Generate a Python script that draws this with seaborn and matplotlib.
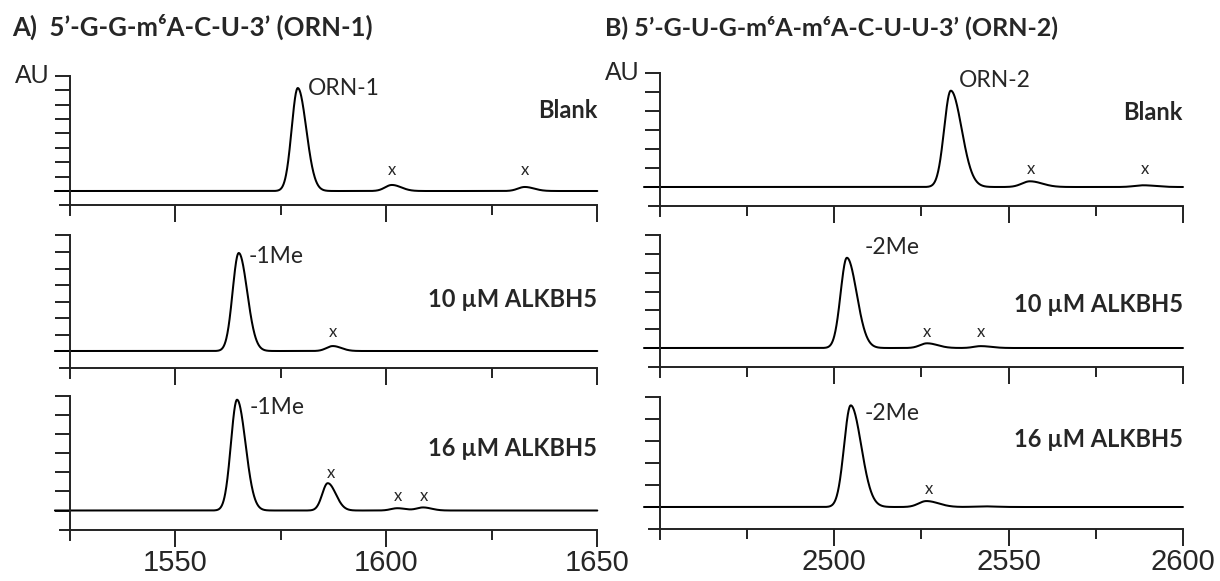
import numpy as np
import pandas as pd
import matplotlib
matplotlib.use("Agg")
import matplotlib.pyplot as plt
import seaborn as sns

sns.set_style("ticks")
plt.rcParams['font.family'] = ['Lato', 'DejaVu Sans']

W, H = 1220, 581

# peak tables: centre (m/z), height (in y-tick units), left/right width
orn1_blank_pos = [1579.0, 1601.3, 1632.8]
orn1_blank_hgt = [7.15, 0.42, 0.28]
orn1_blank_wl = [1.45, 1.6, 1.6]
orn1_blank_wr = [2.0, 2.2, 2.2]

orn1_10_pos = [1565.0, 1587.3]
orn1_10_hgt = [5.94, 0.30]
orn1_10_wl = [1.45, 1.5]
orn1_10_wr = [2.0, 2.0]

orn1_16_pos = [1564.6, 1586.1, 1602.6, 1608.7]
orn1_16_hgt = [5.80, 1.43, 0.12, 0.16]
orn1_16_wl = [1.45, 1.3, 1.5, 1.5]
orn1_16_wr = [2.0, 1.9, 2.0, 2.0]

orn2_blank_pos = [2533.4, 2556.1, 2588.6]
orn2_blank_hgt = [5.07, 0.30, 0.09]
orn2_blank_wl = [1.9, 2.3, 2.5]
orn2_blank_wr = [3.1, 3.5, 3.5]

orn2_10_pos = [2503.6, 2526.6, 2542.0]
orn2_10_hgt = [4.80, 0.25, 0.10]
orn2_10_wl = [1.8, 2.0, 2.0]
orn2_10_wr = [2.8, 3.0, 3.0]

orn2_16_pos = [2504.7, 2526.4, 2542.6]
orn2_16_hgt = [4.62, 0.27, 0.03]
orn2_16_wl = [1.9, 2.2, 2.5]
orn2_16_wr = [3.0, 3.5, 3.5]

# annotations: (text, x, y)
orn1_blank_txt = [("ORN-1", 1581.4, 7.15)]
orn1_blank_x = [(1601.3, 1.45), (1632.8, 1.45)]
orn1_10_txt = [("-1Me", 1567.4, 5.75)]
orn1_10_x = [(1587.3, 1.15)]
orn1_16_txt = [("-1Me", 1567.5, 5.37)]
orn1_16_x = [(1586.8, 1.98), (1602.7, 0.76), (1608.8, 0.76)]
orn2_blank_txt = [("ORN-2", 2535.7, 5.63)]
orn2_blank_x = [(2556.5, 0.95), (2589.0, 0.95)]
orn2_10_txt = [("-2Me", 2508.8, 5.37)]
orn2_10_x = [(2526.6, 0.85), (2542.0, 0.85)]
orn2_16_txt = [("-2Me", 2508.6, 4.27)]
orn2_16_x = [(2527.0, 0.80)]

conditions = ["Blank", "10 µM ALKBH5", "16 µM ALKBH5"]
cond_y_left = [5.6, 3.1, 3.27]
cond_y_right = [3.9, 2.3, 3.05]

titles = ["A)  5\u2019-G-G-m\u2076A-C-U-3\u2019 (ORN-1)",
          "B) 5\u2019-G-U-G-m\u2076A-m\u2076A-C-U-U-3\u2019 (ORN-2)"]

left_ticks = [1550, 1600, 1650]
left_minor = [1575, 1625]
right_ticks = [2500, 2550, 2600]
right_minor = [2475, 2525, 2575]

columns = [
    dict(x0=1525, x1=1650, px0=70.0, px1=597.3, lo=1521.4, ext=1522.6,
         major=left_ticks, minor=left_minor, cond_y=cond_y_left,
         rows=[(orn1_blank_pos, orn1_blank_hgt, orn1_blank_wl, orn1_blank_wr, orn1_blank_txt, orn1_blank_x),
               (orn1_10_pos, orn1_10_hgt, orn1_10_wl, orn1_10_wr, orn1_10_txt, orn1_10_x),
               (orn1_16_pos, orn1_16_hgt, orn1_16_wl, orn1_16_wr, orn1_16_txt, orn1_16_x)],
         geom=[(191.0, 14.4, 8), (351.0, 16.5, 7), (510.5, 19.1, 6)]),
    dict(x0=2450, x1=2600, px0=660.0, px1=1183.0, lo=2445.4, ext=2446.8,
         major=right_ticks, minor=right_minor, cond_y=cond_y_right,
         rows=[(orn2_blank_pos, orn2_blank_hgt, orn2_blank_wl, orn2_blank_wr, orn2_blank_txt, orn2_blank_x),
               (orn2_10_pos, orn2_10_hgt, orn2_10_wl, orn2_10_wr, orn2_10_txt, orn2_10_x),
               (orn2_16_pos, orn2_16_hgt, orn2_16_wl, orn2_16_wr, orn2_16_txt, orn2_16_x)],
         geom=[(187.0, 19.0, 6), (348.0, 18.8, 6), (507.0, 22.0, 5)]),
]


def build_trace(x, pos, hgt, wl, wr):
    # sum of slightly tailing peaks
    y = np.zeros_like(x)
    for p, h, a, b in zip(pos, hgt, wl, wr):
        s = np.where(x < p, a, b)
        y += h * np.exp(-0.5 * ((x - p) / s) ** 2)
    return y


fig = plt.figure(figsize=(W / 100, H / 100), dpi=100)

for ci, col in enumerate(columns):
    ppu = (col['px1'] - col['px0']) / (col['x1'] - col['x0'])
    xl = (col['lo'] - 0.3, col['x1'] + 1.0)
    left_px = col['px0'] + (xl[0] - col['x0']) * ppu
    right_px = col['px0'] + (xl[1] - col['x0']) * ppu
    for ri, (row, (base, step, ntop)) in enumerate(zip(col['rows'], col['geom'])):
        pos, hgt, wl, wr, txt, xs = row
        ybot = -1 - 10.0 / step
        top_px = base - ntop * step
        bot_px = base - ybot * step
        ax = fig.add_axes([left_px / W, 1 - bot_px / H,
                           (right_px - left_px) / W, (bot_px - top_px) / H])
        mz = np.linspace(col['lo'], col['x1'], 2000)
        df = pd.DataFrame({'mz': mz, 'au': build_trace(mz, pos, hgt, wl, wr)})
        sns.lineplot(data=df, x='mz', y='au', ax=ax, color='black', linewidth=1.45)
        ax.set_xlim(*xl)
        ax.set_ylim(ybot, ntop)
        ax.set_xlabel('')
        ax.set_ylabel('')
        for s in ('top', 'right'):
            ax.spines[s].set_visible(False)
        ax.spines['left'].set_position(('data', col['x0']))
        ax.spines['bottom'].set_position(('data', -1))
        ax.spines['bottom'].set_bounds(col['ext'], col['x1'])
        for s in ('left', 'bottom'):
            ax.spines[s].set_linewidth(1.4)
            ax.spines[s].set_color('#222222')
        ax.set_yticks(range(ntop + 1))
        ax.tick_params(axis='y', direction='out', length=10.8, width=1.4,
                       color='#222222', labelleft=False)
        if ri == 2:
            ax.set_xticks(col['major'], labels=[str(v) for v in col['major']],
                          fontfamily='Liberation Sans', fontsize=21)
        else:
            ax.set_xticks(col['major'])
            ax.tick_params(axis='x', labelbottom=False)
        ax.set_xticks(col['minor'], minor=True)
        ax.tick_params(axis='x', which='major', direction='out', length=12,
                       width=1.4, color='#222222', pad=2)
        ax.tick_params(axis='x', which='minor', direction='out', length=7,
                       width=1.4, color='#222222')
        ax.patch.set_alpha(0)

        for t, tx, ty in txt:
            ax.text(tx, ty, t, ha='left', va='center', fontsize=16.5)
        for tx, ty in xs:
            ax.text(tx, ty, 'x', ha='center', va='center', fontsize=12)
        ax.text(col['x1'], col['cond_y'][ri], conditions[ri], ha='right',
                va='center', fontsize=17, fontweight='bold')
        if ri == 0:
            ax.annotate('AU', xy=(col['x0'], ntop), xytext=(-14.4, 0),
                        textcoords='offset points', ha='right', va='center',
                        fontsize=18, fontfamily='Liberation Sans')

fig.text(12 / W, 1 - 27 / H, titles[0], ha='left', va='center',
         fontsize=18.5, fontweight='bold')
fig.text(605 / W, 1 - 27 / H, titles[1], ha='left', va='center',
         fontsize=18, fontweight='bold')

fig.savefig('out.png', dpi=100)
